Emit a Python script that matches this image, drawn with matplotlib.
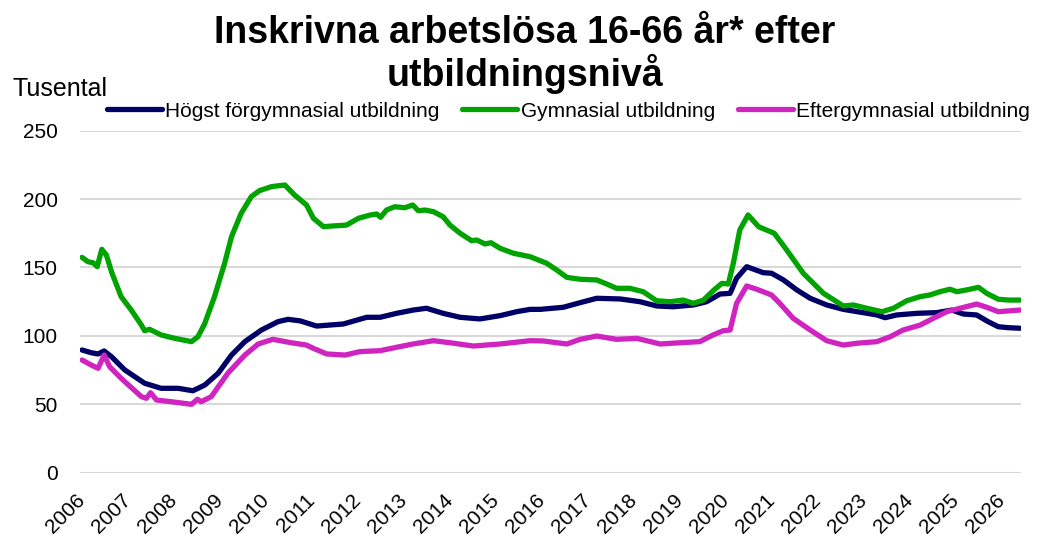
import matplotlib
matplotlib.use("Agg")
import matplotlib.pyplot as plt
from matplotlib.transforms import ScaledTranslation

plt.rcParams["font.family"] = ["Liberation Sans", "DejaVu Sans"]

TITLE = "Inskrivna arbetslösa 16-66 år* efter\nutbildningsnivå"
YLABEL = "Tusental"
SERIES_NAMES = ["Högst förgymnasial utbildning", "Gymnasial utbildning", "Eftergymnasial utbildning"]
COLORS = ["#000066", "#00a300", "#d024c0"]
YEARS = list(range(2006, 2027))

# Högst förgymnasial utbildning (tusental), time as decimal year
forgym_t = [2006.00, 2006.20, 2006.35, 2006.48, 2006.64, 2006.93, 2007.36, 2007.72, 2008.09, 2008.41,
            2008.67, 2008.96, 2009.25, 2009.54, 2009.90, 2010.26, 2010.48, 2010.74, 2011.10, 2011.68,
            2012.19, 2012.48, 2012.84, 2013.20, 2013.49, 2013.85, 2014.22, 2014.65, 2015.09, 2015.45,
            2015.74, 2015.96, 2016.46, 2016.83, 2017.19, 2017.70, 2018.13, 2018.49, 2018.85, 2019.29,
            2019.58, 2019.87, 2020.09, 2020.23, 2020.45, 2020.81, 2020.99, 2021.25, 2021.54, 2021.83,
            2022.19, 2022.55, 2022.98, 2023.28, 2023.46, 2023.71, 2024.15, 2024.58, 2024.91, 2025.16,
            2025.45, 2025.70, 2025.92, 2026.14, 2026.39]
forgym_v = [89.7, 87.7, 86.8, 89.0, 84.8, 75.1, 65.4, 61.7, 61.7, 59.9,
            64.1, 72.7, 86.0, 95.8, 104.3, 110.4, 112.1, 111.0, 107.2, 108.7,
            113.6, 113.6, 116.5, 118.9, 120.2, 116.5, 113.6, 112.4, 114.8, 117.7,
            119.4, 119.4, 120.9, 124.3, 127.5, 127.0, 125.0, 121.9, 121.3, 122.6,
            125.0, 130.6, 131.1, 142.1, 150.6, 146.2, 145.8, 140.9, 133.6, 127.5,
            122.6, 119.4, 117.0, 115.3, 113.3, 115.3, 116.5, 117.0, 118.9, 116.0,
            115.3, 110.4, 106.7, 106.0, 105.6]

# Gymnasial utbildning (tusental)
gym_t = [2006.00, 2006.13, 2006.24, 2006.33, 2006.43, 2006.53, 2006.64, 2006.85, 2007.07, 2007.29,
         2007.36, 2007.47, 2007.72, 2008.02, 2008.38, 2008.52, 2008.67, 2008.88, 2009.10, 2009.25,
         2009.46, 2009.68, 2009.86, 2010.12, 2010.41, 2010.62, 2010.88, 2011.03, 2011.25, 2011.43,
         2011.75, 2012.01, 2012.26, 2012.41, 2012.49, 2012.62, 2012.80, 2013.02, 2013.19, 2013.31,
         2013.46, 2013.64, 2013.85, 2014.00, 2014.22, 2014.47, 2014.58, 2014.76, 2014.89, 2015.09,
         2015.38, 2015.74, 2016.10, 2016.32, 2016.54, 2016.83, 2017.19, 2017.41, 2017.62, 2017.91,
         2018.20, 2018.49, 2018.78, 2019.07, 2019.29, 2019.51, 2019.72, 2019.91, 2020.05, 2020.16,
         2020.30, 2020.48, 2020.71, 2021.05, 2021.32, 2021.68, 2022.12, 2022.55, 2022.77, 2023.06,
         2023.39, 2023.64, 2023.93, 2024.22, 2024.43, 2024.65, 2024.87, 2025.02, 2025.23, 2025.49,
         2025.67, 2025.92, 2026.14, 2026.39]
gym_v = [157.4, 154.2, 153.5, 150.6, 163.3, 159.1, 146.9, 128.7, 118.9, 108.0,
         103.8, 104.8, 100.7, 98.2, 95.8, 99.4, 109.2, 128.7, 153.1, 172.5,
         189.6, 201.8, 206.2, 209.1, 210.3, 203.0, 195.7, 186.0, 179.8, 180.3,
         181.0, 186.0, 188.3, 189.1, 186.7, 192.0, 194.4, 193.7, 195.7, 191.5,
         192.0, 190.8, 187.1, 181.0, 175.0, 169.6, 170.1, 167.2, 168.1, 164.0,
         160.4, 157.9, 153.1, 148.2, 142.8, 141.4, 140.9, 137.9, 134.8, 134.8,
         132.3, 125.7, 125.0, 126.2, 123.8, 126.2, 133.0, 138.4, 137.9, 153.1,
         177.4, 188.4, 179.8, 175.0, 162.8, 145.8, 131.1, 121.9, 122.6, 120.2,
         117.7, 120.2, 125.7, 128.7, 129.9, 132.3, 134.1, 132.3, 133.6, 135.5,
         131.1, 126.8, 126.2, 126.2]

# Eftergymnasial utbildning (tusental)
eftergym_t = [2006.00, 2006.20, 2006.35, 2006.48, 2006.60, 2006.85, 2007.29, 2007.40, 2007.49, 2007.62,
              2007.94, 2008.38, 2008.51, 2008.59, 2008.81, 2009.17, 2009.54, 2009.83, 2010.15, 2010.55,
              2010.88, 2011.03, 2011.32, 2011.72, 2012.04, 2012.48, 2012.84, 2013.20, 2013.64, 2014.00,
              2014.51, 2015.09, 2015.74, 2016.03, 2016.54, 2016.83, 2017.19, 2017.62, 2018.06, 2018.57,
              2019.00, 2019.43, 2019.72, 2019.94, 2020.09, 2020.23, 2020.45, 2020.67, 2020.99, 2021.17,
              2021.46, 2021.83, 2022.19, 2022.55, 2022.84, 2023.28, 2023.57, 2023.85, 2024.22, 2024.51,
              2024.80, 2025.09, 2025.45, 2025.67, 2025.92, 2026.39]
eftergym_v = [82.4, 78.7, 76.3, 86.0, 77.5, 69.0, 55.6, 54.4, 58.5, 53.1,
              51.9, 50.0, 53.7, 51.9, 55.6, 72.7, 86.0, 94.1, 97.5, 95.0,
              93.3, 90.9, 86.8, 86.0, 88.5, 89.2, 91.7, 94.1, 96.5, 95.0,
              92.6, 94.1, 96.5, 96.3, 94.1, 97.5, 99.9, 97.5, 98.2, 94.1,
              95.0, 95.8, 100.7, 103.8, 104.3, 123.8, 136.5, 134.1, 129.9, 123.8,
              112.9, 104.3, 96.5, 93.3, 94.6, 95.8, 99.4, 104.3, 107.9, 112.9,
              117.7, 120.2, 123.3, 120.9, 117.7, 118.9]


def main() -> None:
    fig = plt.figure(figsize=(10.45, 5.40), dpi=100)
    ax = fig.add_axes([0.0766, 0.1246, 0.900, 0.6334])

    for t, v, name, color in zip(
        [forgym_t, gym_t, eftergym_t],
        [forgym_v, gym_v, eftergym_v],
        SERIES_NAMES,
        COLORS,
    ):
        ax.plot(t, v, color=color, linewidth=3.8, label=name, solid_capstyle="round", solid_joinstyle="round")

    ax.set_xlim(2005.957, 2026.404)
    ax.set_ylim(0, 250)
    ax.set_yticks(range(0, 251, 50))
    ax.set_xticks(YEARS)
    ax.set_xticklabels([str(y) for y in YEARS], rotation=45, ha="right", va="top", rotation_mode="anchor")
    ax.tick_params(axis="both", length=0, labelsize=15, colors="black")
    ax.tick_params(axis="x", pad=13)
    ax.tick_params(axis="y", pad=16)
    shift = ScaledTranslation(-7 / 100, 0, fig.dpi_scale_trans)
    for label in ax.get_xticklabels():
        label.set_transform(label.get_transform() + shift)
    ax.grid(axis="y", color="#d9d9d9", linewidth=1.5)
    ax.set_axisbelow(True)
    for spine in ax.spines.values():
        spine.set_visible(False)

    fig.text(0.5025, 0.973, TITLE, ha="center", va="top", fontsize=27, fontweight="bold", linespacing=1.1)
    fig.text(0.012, 0.822, YLABEL, ha="left", va="baseline", fontsize=18)

    fig.legend(
        loc="center left",
        bbox_to_anchor=(0.1024, 0.794),
        ncol=3,
        frameon=False,
        fontsize=15,
        handlelength=2.64,
        handletextpad=0.15,
        columnspacing=1.1,
        borderaxespad=0,
        borderpad=0,
    )

    fig.savefig("out.png", dpi=100)
    plt.close(fig)


if __name__ == "__main__":
    main()
